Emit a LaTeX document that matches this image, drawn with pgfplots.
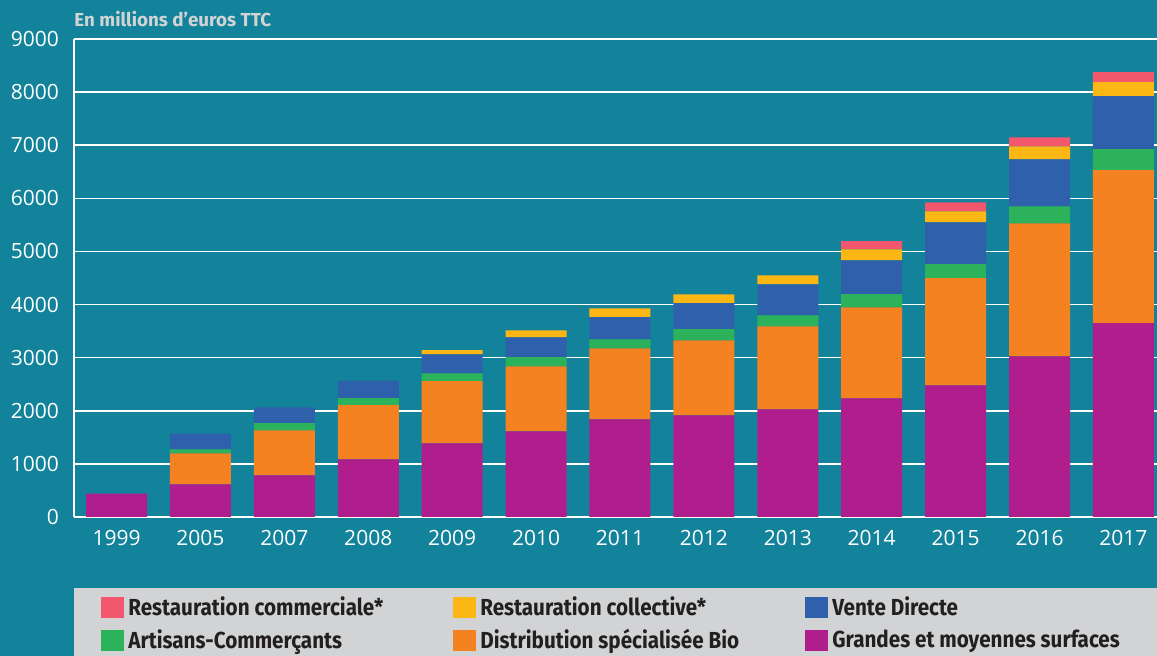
\documentclass[border=0pt]{standalone}
\usepackage{pgfplots}
\pgfplotsset{compat=1.18}
\usepackage{pgfplotstable}
\usepackage{fontspec}
\setmainfont{Open Sans}
\newfontfamily\condfont[FakeStretch=0.89]{Fira Sans}
\newfontfamily\titlefont{Fira Sans}

\definecolor{bgteal}{HTML}{12839A}
\definecolor{legendgrey}{HTML}{D1D3D4}
\definecolor{gms}{HTML}{B01E8E}
\definecolor{bio}{HTML}{F58220}
\definecolor{artisan}{HTML}{2DB25C}
\definecolor{vente}{HTML}{2E60AC}
\definecolor{rcoll}{HTML}{FDB714}
\definecolor{rcomm}{HTML}{F2576E}
\definecolor{legendtext}{HTML}{231F20}

% sales by channel, millions of euros
\pgfplotstableread{
x   gms   bio   art  vd   rcoll rcomm
0   440   0     0    0    0     0
1   616   584   72   298  0     0
2   785   848   132  301  0     0
3   1087  1017  132  333  0     0
4   1388  1168  150  358  76    0
5   1614  1224  170  376  132   0
6   1840  1337  169  415  169   0
7   1915  1412  208  490  168   0
8   2028  1563  207  584  169   0
9   2235  1714  245  640  207   151
10  2480  2016  263  790  207   169
11  3026  2502  320  885  245   169
12  3648  2881  396  998  263   188
}\sales

\begin{document}
\begin{tikzpicture}
\fill[bgteal] (0pt,0pt) rectangle (578.5pt,328pt);
\fill[legendgrey] (37pt,0pt) rectangle (578.5pt,34.15pt);
\node[anchor=base west, inner sep=0pt, text=legendgrey, font=\titlefont\bfseries\fontsize{9.4}{11}\selectfont]
  at (37pt,314.5pt) {En millions d’euros TTC};

\begin{axis}[
    at={(37pt,69.5pt)}, anchor=south west,
    scale only axis, width=541.5pt, height=239pt,
    xmin=-0.507, xmax=12.40, ymin=0, ymax=9000,
    ybar stacked, bar width=30.5pt,
    axis x line*=bottom, axis y line*=left,
    axis line style={white, line width=0.7pt},
    ymajorgrids, grid style={white, line width=0.8pt},
    major tick length=0pt,
    ytick={0,1000,...,9000},
    xtick=data,
    xticklabels={1999,2005,2007,2008,2009,2010,2011,2012,2013,2014,2015,2016,2017},
    scaled y ticks=false,
    /pgf/number format/1000 sep={},
    /pgf/number format/assume math mode=true,
    tick label style={text=white, font=\fontsize{10.5}{12}\selectfont},
    yticklabel style={xshift=-4pt},
    xticklabel style={yshift=-3pt},
    reverse legend,
    legend columns=3,
    legend style={at={(0.0249,-0.1584)}, anchor=north west, draw=none, fill=none,
      inner sep=0pt, row sep=1pt,
      font=\condfont\bfseries\fontsize{11.6}{13}\selectfont, text=legendtext,
      /tikz/every odd column/.append style={column sep=0pt}},
    legend image code/.code={\fill[#1] (0pt,-5.2pt) rectangle (11.5pt,5.3pt);},
]
\addplot[fill=gms, draw=none] table[x=x, y=gms] {\sales};
\addlegendentry{\makebox[160.5pt][l]{Grandes et moyennes surfaces}}
\addplot[fill=bio, draw=none] table[x=x, y=bio] {\sales};
\addlegendentry{\makebox[160.5pt][l]{Distribution spécialisée Bio}}
\addplot[fill=artisan, draw=none] table[x=x, y=art] {\sales};
\addlegendentry{\makebox[160.5pt][l]{Artisans-Commerçants}}
\addplot[fill=vente, draw=none] table[x=x, y=vd] {\sales};
\addlegendentry{\makebox[160.5pt][l]{Vente Directe}}
\addplot[fill=rcoll, draw=none] table[x=x, y=rcoll] {\sales};
\addlegendentry{\makebox[160.5pt][l]{Restauration collective*}}
\addplot[fill=rcomm, draw=none] table[x=x, y=rcomm] {\sales};
\addlegendentry{\makebox[160.5pt][l]{Restauration commerciale*}}
\end{axis}
\pgfresetboundingbox
\useasboundingbox (0pt,0pt) rectangle (578.5pt,328pt);
\end{tikzpicture}
\end{document}
